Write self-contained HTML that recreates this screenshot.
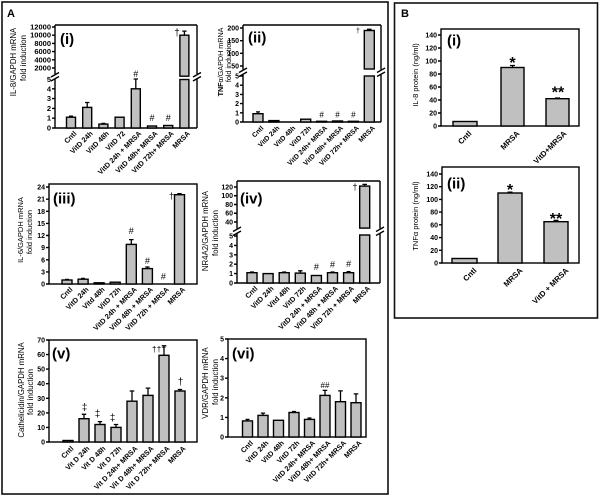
<!DOCTYPE html>
<html><head><meta charset="utf-8">
<style>
html,body{margin:0;padding:0;background:#fff;}
svg{display:block;}
text{font-family:"Liberation Sans",Arial,sans-serif;fill:#000;}
.tk{font-size:7px;text-anchor:end;font-weight:bold;}
.tk8{font-size:7.5px;text-anchor:end;font-weight:bold;}
.xl{font-size:7.2px;font-weight:bold;text-anchor:end;}
.xb{font-size:7.8px;font-weight:bold;text-anchor:end;}
.ti{font-size:7.8px;text-anchor:middle;}
.pl{font-size:15px;font-weight:bold;}
.mk{text-anchor:middle;}
.fr{fill:none;stroke:#000;stroke-width:1.4;}
.bar rect{fill:#c0c0c0;stroke:#000;stroke-width:1.4;}
.err{fill:none;stroke:#000;stroke-width:1.3;}
</style></head>
<body>
<svg width="600" height="498" viewBox="0 0 600 498" xmlns="http://www.w3.org/2000/svg">
<rect x="0" y="0" width="600" height="498" fill="#fff"/>
<!-- outer panels -->
<rect x="2" y="2" width="386" height="492" fill="none" stroke="#111" stroke-width="1.6"/>
<rect x="394.5" y="3" width="203" height="315" fill="none" stroke="#111" stroke-width="1.6"/>
<text x="7" y="17" style="font-size:11px;font-weight:bold">A</text>
<text x="401" y="17" style="font-size:11px;font-weight:bold">B</text>

<!-- ============ (i) ============ -->
<path class="fr" d="M55 25H197 M55 128H197 M55 25V74 M55 79V128 M197 25V74 M197 79V128"/>
<path class="fr" d="M51 77L59 72.5 M51 81L59 76.5 M193 77L201 72.5 M193 81L201 76.5"/>
<path class="fr" d="M55 27h-3M55 35.2h-3M55 43.4h-3M55 51.6h-3M55 59.8h-3M55 68h-3M55 88.8h-3M55 98.6h-3M55 108.4h-3M55 118.2h-3M55 128h-3"/>
<g class="tk8">
<text x="51" y="29.5">12000</text><text x="51" y="37.7">10000</text><text x="51" y="45.9">8000</text>
<text x="51" y="54.1">6000</text><text x="51" y="62.3">4000</text><text x="51" y="70.5">2000</text>
<text x="51" y="82">5</text><text x="51" y="91.3">4</text><text x="51" y="101.1">3</text>
<text x="51" y="110.9">2</text><text x="51" y="120.7">1</text><text x="51" y="130.5">0</text>
</g>
<g class="bar">
<rect x="66.5" y="117.2" width="9" height="10.8"/>
<rect x="82.7" y="107.4" width="9" height="20.6"/>
<rect x="98.9" y="124.1" width="9" height="3.9"/>
<rect x="115.1" y="117.2" width="9" height="10.8"/>
<rect x="131.3" y="88.8" width="9" height="39.2"/>
<rect x="147.5" y="126" width="9" height="2"/>
<rect x="163.7" y="125.5" width="9" height="2.5"/>
<rect x="179.9" y="79.5" width="9" height="48.5"/>
<rect x="179.9" y="35.2" width="9" height="41"/>
</g>
<path class="err" d="M71 117.2V116.2M69 116.2h4 M87.2 107.4V102.5M85 102.5h4.4 M103.4 124.1V123.4M101.4 123.4h4 M135.8 88.8V79M133.6 79h4.4 M184.4 35.2V31.1M182.2 31.1h4.4"/>
<g class="mk" style="font-size:9px">
<text x="135.8" y="77">#</text><text x="152" y="121">#</text><text x="168.2" y="121">#</text>
<text x="177" y="36" style="font-size:10px">†</text>
</g>
<text class="pl" x="60" y="44">(i)</text>
<text class="ti" transform="translate(16,62) rotate(-90)">IL-8/GAPDH mRNA</text>
<text class="ti" transform="translate(26,58) rotate(-90)">fold induction</text>
<g class="xl">
<text transform="translate(77,134) rotate(-45)">Cntl</text>
<text transform="translate(93.2,134) rotate(-45)">VitD 24h</text>
<text transform="translate(109.4,134) rotate(-45)">VitD 48h</text>
<text transform="translate(125.6,134) rotate(-45)">VitD 72</text>
<text transform="translate(141.8,134) rotate(-45)">VitD 24h + MRSA</text>
<text transform="translate(158,134) rotate(-45)">VitD 48h+ MRSA</text>
<text transform="translate(174.2,134) rotate(-45)">VitD 72h+ MRSA</text>
<text transform="translate(190.4,134) rotate(-45)">MRSA</text>
</g>

<!-- ============ (ii) ============ -->
<path class="fr" d="M243 25H381 M243 122H381 M243 25V69.5 M243 74V122 M381 25V69.5 M381 74V122"/>
<path class="fr" d="M239 72.5L247 68 M239 76.5L247 72 M377 72.5L385 68 M377 76.5L385 72"/>
<path class="fr" d="M243 28h-3M243 40.7h-3M243 53.3h-3M243 66h-3M243 76h-3M243 85.2h-3M243 94.4h-3M243 103.6h-3M243 112.8h-3M243 122h-3"/>
<g class="tk">
<text x="239" y="30.5">200</text><text x="239" y="43.2">150</text><text x="239" y="55.8">100</text>
<text x="239" y="68.5">50</text><text x="239" y="78.5">5</text><text x="239" y="87.7">4</text>
<text x="239" y="96.9">3</text><text x="239" y="106.1">2</text><text x="239" y="115.3">1</text><text x="239" y="124.5">0</text>
</g>
<g class="bar">
<rect x="253" y="113.7" width="10" height="8.3"/>
<rect x="268.9" y="120.6" width="10" height="1.4"/>
<rect x="300.7" y="119.2" width="10" height="2.8"/>
<rect x="316.6" y="121.3" width="10" height="0.7"/>
<rect x="332.5" y="121" width="10" height="1"/>
<rect x="348.4" y="121.3" width="10" height="0.7"/>
<rect x="364.3" y="76" width="10" height="46"/>
<rect x="364.3" y="30.5" width="10" height="38.5"/>
</g>
<path class="err" d="M258 113.7V111.9M256 111.9h4 M369.3 30.5V29.3M367 29.3h4.6"/>
<g class="mk" style="font-size:8px">
<text x="321.6" y="117.5">#</text><text x="337.5" y="117.5">#</text><text x="353.4" y="117.5">#</text>
<text x="358" y="33" style="font-size:7px">†</text>
</g>
<text class="pl" x="248" y="42.6">(ii)</text>
<text class="ti" transform="translate(223,62) rotate(-90)" style="font-size:7.2px"><tspan font-weight="bold">TNF</tspan>α/GAPDH mRNA</text>
<text class="ti" transform="translate(231,61) rotate(-90)" style="font-size:7.2px">fold induction</text>
<g class="xl" style="font-size:6.8px">
<text transform="translate(264,128.5) rotate(-45)">Cntl</text>
<text transform="translate(279.9,128.5) rotate(-45)">VitD 24h</text>
<text transform="translate(295.8,128.5) rotate(-45)">VitD 48h</text>
<text transform="translate(311.7,128.5) rotate(-45)">VitD 72h</text>
<text transform="translate(327.6,128.5) rotate(-45)">VitD 24h+ MRSA</text>
<text transform="translate(343.5,128.5) rotate(-45)">VitD 48h+ MRSA</text>
<text transform="translate(359.4,128.5) rotate(-45)">VitD 72h+ MRSA</text>
<text transform="translate(375.3,128.5) rotate(-45)">MRSA</text>
</g>

<!-- ============ (iii) ============ -->
<rect class="fr" x="49" y="184" width="148" height="100"/>
<path class="fr" d="M49 187h-3M49 199.2h-3M49 211.3h-3M49 223.4h-3M49 235.5h-3M49 247.6h-3M49 259.8h-3M49 271.9h-3M49 284h-3"/>
<g class="tk">
<text x="45" y="189.5">24</text><text x="45" y="201.7">21</text><text x="45" y="213.8">18</text>
<text x="45" y="225.9">15</text><text x="45" y="238">12</text><text x="45" y="250.1">9</text>
<text x="45" y="262.3">6</text><text x="45" y="274.4">3</text><text x="45" y="286.5">0</text>
</g>
<g class="bar">
<rect x="62" y="280" width="10" height="4"/>
<rect x="78.1" y="279.2" width="10" height="4.8"/>
<rect x="94.1" y="282.8" width="10" height="1.2"/>
<rect x="110.2" y="282.2" width="10" height="1.8"/>
<rect x="126.3" y="244.4" width="10" height="39.6"/>
<rect x="142.4" y="268.6" width="10" height="15.4"/>
<rect x="174.5" y="194.7" width="10" height="89.3"/>
</g>
<path class="err" d="M67 280V279.4M65 279.4h4 M83.1 279.2V278.4M81 278.4h4 M131.3 244.4V239.6M129 239.6h4.6 M147.4 268.6V267M145.2 267h4.4 M179.5 194.7V193.7M177.3 193.7h4.4"/>
<g class="mk" style="font-size:9px">
<text x="131.3" y="234">#</text><text x="147.4" y="264">#</text><text x="163.4" y="279.5">#</text>
<text x="171.5" y="199">†</text>
</g>
<text class="pl" x="53" y="203.5">(iii)</text>
<text class="ti" transform="translate(23,230) rotate(-90)" style="font-size:7.5px">IL-6/GAPDH mRNA</text>
<text class="ti" transform="translate(32,232) rotate(-90)" style="font-size:7.5px">fold induction</text>
<g class="xl">
<text transform="translate(73,290) rotate(-45)">Cntl</text>
<text transform="translate(89.1,290) rotate(-45)">VitD 24h</text>
<text transform="translate(105.1,290) rotate(-45)">Vitd 48h</text>
<text transform="translate(121.2,290) rotate(-45)">VitD 72h</text>
<text transform="translate(137.3,290) rotate(-45)">VitD 24h + MRSA</text>
<text transform="translate(153.4,290) rotate(-45)">VitD 48h + MRSA</text>
<text transform="translate(169.4,290) rotate(-45)">VitD 72h + MRSA</text>
<text transform="translate(185.5,290) rotate(-45)">MRSA</text>
</g>

<!-- ============ (iv) ============ -->
<path class="fr" d="M237 181H380 M237 283H380 M237 181V228.5 M237 233V283 M380 181V228.5 M380 233V283"/>
<path class="fr" d="M233 231.5L241 227 M233 235.5L241 231 M376 231.5L384 227 M376 235.5L384 231"/>
<path class="fr" d="M237 187h-3M237 195.75h-3M237 204.5h-3M237 213.25h-3M237 222h-3M237 236h-3M237 245.4h-3M237 254.8h-3M237 264.2h-3M237 273.6h-3M237 283h-3"/>
<g class="tk">
<text x="233" y="189.5">120</text><text x="233" y="198.2">100</text><text x="233" y="207">80</text>
<text x="233" y="215.7">60</text><text x="233" y="224.5">40</text><text x="233" y="238.5">5</text>
<text x="233" y="247.9">4</text><text x="233" y="257.3">3</text><text x="233" y="266.7">2</text>
<text x="233" y="276.1">1</text><text x="233" y="285.5">0</text>
</g>
<g class="bar">
<rect x="247" y="272.7" width="10" height="10.3"/>
<rect x="263.1" y="273.6" width="10" height="9.4"/>
<rect x="279.2" y="272.7" width="10" height="10.3"/>
<rect x="295.3" y="273.1" width="10" height="9.9"/>
<rect x="311.4" y="275.5" width="10" height="7.5"/>
<rect x="327.5" y="272.7" width="10" height="10.3"/>
<rect x="343.6" y="272.7" width="10" height="10.3"/>
<rect x="359.7" y="235" width="10" height="48"/>
<rect x="359.7" y="186.1" width="10" height="42"/>
</g>
<path class="err" d="M252 272.7V272M250 272h4 M284.2 272.7V272M282.2 272h4 M300.3 273.1V270.8M298.1 270.8h4.4 M332.5 272.7V272M330.5 272h4 M348.6 272.7V271.6M346.6 271.6h4 M364.7 186.1V184.4M362.4 184.4h4.6"/>
<g class="mk" style="font-size:9px">
<text x="316.4" y="270">#</text><text x="332.5" y="267.5">#</text><text x="348.6" y="267">#</text>
<text x="355" y="190">†</text>
</g>
<text class="pl" x="240" y="203.5">(iv)</text>
<text class="ti" transform="translate(208,231) rotate(-90)">NR4A2/GAPDH mRNA</text>
<text class="ti" transform="translate(218,233) rotate(-90)">fold induction</text>
<g class="xl">
<text transform="translate(258,289) rotate(-45)">Cntl</text>
<text transform="translate(274.1,289) rotate(-45)">VitD 24h</text>
<text transform="translate(290.2,289) rotate(-45)">Vitd 48h</text>
<text transform="translate(306.3,289) rotate(-45)">VitD 72h</text>
<text transform="translate(322.4,289) rotate(-45)">VitD 24h + MRSA</text>
<text transform="translate(338.5,289) rotate(-45)">VitD 48h + MRSA</text>
<text transform="translate(354.6,289) rotate(-45)">VitD 72h + MRSA</text>
<text transform="translate(370.7,289) rotate(-45)">MRSA</text>
</g>

<!-- ============ (v) ============ -->
<rect class="fr" x="49" y="340" width="148" height="102"/>
<path class="fr" d="M49 340h-3M49 354.6h-3M49 369.1h-3M49 383.7h-3M49 398.3h-3M49 412.9h-3M49 427.4h-3M49 442h-3"/>
<g class="tk">
<text x="45" y="342.5">70</text><text x="45" y="357.1">60</text><text x="45" y="371.6">50</text>
<text x="45" y="386.2">40</text><text x="45" y="400.8">30</text><text x="45" y="415.4">20</text>
<text x="45" y="429.9">10</text><text x="45" y="444.5">0</text>
</g>
<g class="bar">
<rect x="63" y="440.5" width="10" height="1.5"/>
<rect x="79" y="418.7" width="10" height="23.3"/>
<rect x="95" y="424.5" width="10" height="17.5"/>
<rect x="111" y="427.4" width="10" height="14.6"/>
<rect x="127" y="401.2" width="10" height="40.8"/>
<rect x="143" y="395.4" width="10" height="46.6"/>
<rect x="159" y="355.3" width="10" height="86.7"/>
<rect x="175" y="391" width="10" height="51"/>
</g>
<path class="err" d="M84 418.7V414.3M81.8 414.3h4.4 M100 424.5V421.6M97.8 421.6h4.4 M116 427.4V424.5M113.8 424.5h4.4 M132 401.2V391M129.7 391h4.6 M148 395.4V388.1M145.7 388.1h4.6 M164 355.3V345.8M161.7 345.8h4.6 M180 391V389.5M177.8 389.5h4.4"/>
<g class="mk" style="font-size:10px">
<text x="84.5" y="410.5">‡</text><text x="97.5" y="417">‡</text><text x="112.5" y="421">‡</text>
<text x="159" y="352" style="font-size:8.5px">†††</text>
<text x="180.5" y="385">†</text>
</g>
<text class="pl" x="52" y="358.5">(v)</text>
<text class="ti" transform="translate(24,390) rotate(-90)">Cathelicidin/GAPDH mRNA</text>
<text class="ti" transform="translate(33,392) rotate(-90)">fold induction</text>
<g class="xl">
<text transform="translate(74,449) rotate(-45)">Cntl</text>
<text transform="translate(90,449) rotate(-45)">Vit D 24h</text>
<text transform="translate(106,449) rotate(-45)">Vit D 48h</text>
<text transform="translate(122,449) rotate(-45)">Vit D 72h</text>
<text transform="translate(138,449) rotate(-45)">Vit D 24h+ MRSA</text>
<text transform="translate(154,449) rotate(-45)">Vit D 48h+ MRSA</text>
<text transform="translate(170,449) rotate(-45)">Vit D 72h+ MRSA</text>
<text transform="translate(186,449) rotate(-45)">MRSA</text>
</g>

<!-- ============ (vi) ============ -->
<rect class="fr" x="228" y="339" width="138" height="98"/>
<path class="fr" d="M228 339h-3M228 358.6h-3M228 378.2h-3M228 397.8h-3M228 417.4h-3M228 437h-3"/>
<g class="tk">
<text x="224" y="341.5">5</text><text x="224" y="361.1">4</text><text x="224" y="380.7">3</text>
<text x="224" y="400.3">2</text><text x="224" y="419.9">1</text><text x="224" y="439.5">0</text>
</g>
<g class="bar">
<rect x="242.5" y="420.9" width="10" height="16.1"/>
<rect x="258" y="415.4" width="10" height="21.6"/>
<rect x="273.5" y="420.3" width="10" height="16.7"/>
<rect x="289" y="412.5" width="10" height="24.5"/>
<rect x="304.5" y="419.4" width="10" height="17.6"/>
<rect x="320" y="395.4" width="10" height="41.6"/>
<rect x="335.5" y="401.7" width="10" height="35.3"/>
<rect x="351" y="402.7" width="10" height="34.3"/>
</g>
<path class="err" d="M247.5 420.9V419.4M245.5 419.4h4 M263 415.4V413.1M260.8 413.1h4.4 M294 412.5V411.5M292 411.5h4 M309.5 419.4V418M307.5 418h4 M325 395.4V390.4M322.7 390.4h4.6 M340.5 401.7V390.9M338.2 390.9h4.6 M356 402.7V393.9M353.7 393.9h4.6"/>
<text class="mk" x="325" y="388" style="font-size:8px">##</text>
<text class="pl" x="232" y="358.5">(vi)</text>
<text class="ti" transform="translate(208,383) rotate(-90)">VDR/GAPDH mRNA</text>
<text class="ti" transform="translate(218,382) rotate(-90)">fold induction</text>
<g class="xl">
<text transform="translate(253.5,443.5) rotate(-45)">Cntl</text>
<text transform="translate(269,443.5) rotate(-45)">VitD 24h</text>
<text transform="translate(284.5,443.5) rotate(-45)">VitD 48h</text>
<text transform="translate(300,443.5) rotate(-45)">VitD 72h</text>
<text transform="translate(315.5,443.5) rotate(-45)">VitD 24h+ MRSA</text>
<text transform="translate(331,443.5) rotate(-45)">VitD 48h+ MRSA</text>
<text transform="translate(346.5,443.5) rotate(-45)">VitD 72h+ MRSA</text>
<text transform="translate(362,443.5) rotate(-45)">MRSA</text>
</g>

<!-- ============ B (i) ============ -->
<rect class="fr" x="441" y="29" width="138" height="97"/>
<path class="fr" d="M441 35h-3M441 48h-3M441 61h-3M441 74h-3M441 87h-3M441 100h-3M441 113h-3M441 126h-3"/>
<g class="tk">
<text x="437" y="37.5">140</text><text x="437" y="50.5">120</text><text x="437" y="63.5">100</text>
<text x="437" y="76.5">80</text><text x="437" y="89.5">60</text><text x="437" y="102.5">40</text>
<text x="437" y="115.5">20</text><text x="437" y="128.5">0</text>
</g>
<g class="bar">
<rect x="453" y="121.5" width="24" height="4.5"/>
<rect x="501" y="67.5" width="23" height="58.5"/>
<rect x="546" y="98.7" width="23" height="27.3"/>
</g>
<path class="err" d="M512.5 67.5V65.5M510 65.5h5 M557.5 98.7V98M555 98h5"/>
<g class="mk" style="font-size:16px;font-weight:bold">
<text x="512.5" y="68">*</text><text x="558" y="97.5">**</text>
</g>
<text class="pl" x="447" y="45.5">(i)</text>
<text class="ti" transform="translate(418,75) rotate(-90)" style="font-size:7.5px">IL-8 protein (ng/ml)</text>
<g class="xb">
<text transform="translate(472,134) rotate(-45)">Cntl</text>
<text transform="translate(520,134) rotate(-45)">MRSA</text>
<text transform="translate(567,134) rotate(-45)">VitD+MRSA</text>
</g>

<!-- ============ B (ii) ============ -->
<rect class="fr" x="442" y="167" width="137" height="96"/>
<path class="fr" d="M442 174h-3M442 186.7h-3M442 199.4h-3M442 212.1h-3M442 224.8h-3M442 237.6h-3M442 250.3h-3M442 263h-3"/>
<g class="tk">
<text x="438" y="176.5">140</text><text x="438" y="189.2">120</text><text x="438" y="201.9">100</text>
<text x="438" y="214.6">80</text><text x="438" y="227.3">60</text><text x="438" y="240.1">40</text>
<text x="438" y="252.8">20</text><text x="438" y="265.5">0</text>
</g>
<g class="bar">
<rect x="452" y="258.5" width="25" height="4.5"/>
<rect x="498" y="193" width="24" height="70"/>
<rect x="544" y="221.7" width="24" height="41.3"/>
</g>
<path class="err" d="M510 193V192.2M507.5 192.2h5 M556 221.7V220.4M553.5 220.4h5"/>
<g class="mk" style="font-size:16px;font-weight:bold">
<text x="510" y="195">*</text><text x="556" y="224">**</text>
</g>
<text class="pl" x="447" y="188.5">(ii)</text>
<text class="ti" transform="translate(418,216) rotate(-90)" style="font-size:7.5px">TNFα protein (ng/ml)</text>
<g class="xb">
<text transform="translate(477,271) rotate(-45)">Cntl</text>
<text transform="translate(523,271) rotate(-45)">MRSA</text>
<text transform="translate(569,271) rotate(-45)">VitD + MRSA</text>
</g>
</svg>
</body></html>
